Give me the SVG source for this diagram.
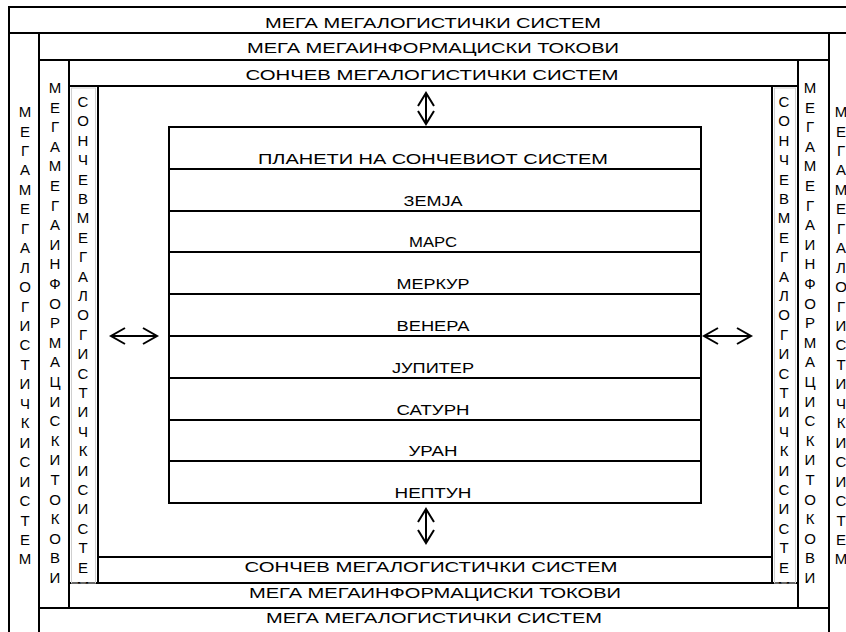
<svg xmlns="http://www.w3.org/2000/svg" width="846" height="632" viewBox="0 0 846 632">
<style>
.ln{stroke:#000;stroke-width:2;fill:none;stroke-linecap:square}
.t{font-family:"Liberation Sans",Arial,sans-serif;font-size:14px;fill:#000}
.v{font-size:15px}
.c{text-anchor:middle}
.ar{stroke:#000;stroke-width:2;fill:none;stroke-linejoin:miter}
.gb{stroke:#cfcfcf;stroke-width:1;fill:none}
</style>
<defs>
<clipPath id="clipL3"><rect x="69" y="86" width="29" height="497.5"/></clipPath>
<clipPath id="clipR3"><rect x="772" y="86" width="26" height="497.5"/></clipPath>
</defs>
<rect width="846" height="632" fill="#fff"/>

<g id="mega-logistics-system">
<path class="ln" d="M9,7H846M9,33H846M9,7V632M39,33V632M829,33V632M39,608H829"/>
<text class="t c" x="433" y="28" textLength="336" lengthAdjust="spacingAndGlyphs">МЕГА МЕГАЛОГИСТИЧКИ СИСТЕМ</text>
<text class="t c" x="434" y="623" textLength="336" lengthAdjust="spacingAndGlyphs">МЕГА МЕГАЛОГИСТИЧКИ СИСТЕМ</text>
<text class="t v c" x="25 25 25 25 25 25 25 25 25 25 25 25 25 25 25 25 25 25 25 25 25 25 25 25" y="117 136.5 155.9 175.4 194.8 214.3 233.7 253.2 272.6 292.1 311.5 331 350.4 369.9 389.3 408.8 428.2 447.7 467.1 486.6 506 525.5 544.9 564.4">МЕГАМЕГАЛОГИСТИЧКИСИСТЕМ</text>
<text class="t v c" x="841 841 841 841 841 841 841 841 841 841 841 841 841 841 841 841 841 841 841 841 841 841 841 841" y="117 136.5 155.9 175.4 194.8 214.3 233.7 253.2 272.6 292.1 311.5 331 350.4 369.9 389.3 408.8 428.2 447.7 467.1 486.6 506 525.5 544.9 564.4">МЕГАМЕГАЛОГИСТИЧКИСИСТЕМ</text>
</g>

<g id="mega-information-flows">
<path class="ln" d="M39,60H829M69,60V608M798,60V608M69,583H798"/>
<text class="t c" x="433" y="53" textLength="372" lengthAdjust="spacingAndGlyphs">МЕГА МЕГАИНФОРМАЦИСКИ ТОКОВИ</text>
<text class="t c" x="435" y="598" textLength="372" lengthAdjust="spacingAndGlyphs">МЕГА МЕГАИНФОРМАЦИСКИ ТОКОВИ</text>
<text class="t v c" x="55 55 55 55 55 55 55 55 55 55 55 55 55 55 55 55 55 55 55 55 55 55 55 55 55 55" y="93 112.6 132.2 151.8 171.4 191 210.6 230.2 249.8 269.4 289 308.6 328.2 347.8 367.4 387 406.6 426.2 445.8 465.4 485 504.6 524.2 543.8 563.4 583">МЕГАМЕГАИНФОРМАЦИСКИТОКОВИ</text>
<text class="t v c" x="810 810 810 810 810 810 810 810 810 810 810 810 810 810 810 810 810 810 810 810 810 810 810 810 810 810" y="93 112.6 132.2 151.8 171.4 191 210.6 230.2 249.8 269.4 289 308.6 328.2 347.8 367.4 387 406.6 426.2 445.8 465.4 485 504.6 524.2 543.8 563.4 583">МЕГАМЕГАИНФОРМАЦИСКИТОКОВИ</text>
</g>

<g id="solar-mega-logistics-system">
<path class="ln" d="M69,86H798M98,86V583M772,86V583M98,557H772"/>
<rect class="gb" x="71.5" y="88" width="24" height="495"/>
<rect class="gb" x="774.5" y="88" width="21" height="495"/>
<text class="t c" x="432" y="80" textLength="373" lengthAdjust="spacingAndGlyphs">СОНЧЕВ  МЕГАЛОГИСТИЧКИ СИСТЕМ</text>
<text class="t c" x="431" y="572" textLength="373" lengthAdjust="spacingAndGlyphs">СОНЧЕВ  МЕГАЛОГИСТИЧКИ СИСТЕМ</text>
<text class="t v c" clip-path="url(#clipL3)" x="83 83 83 83 83 83 83 83 83 83 83 83 83 83 83 83 83 83 83 83 83 83 83 83 83 83" y="107 126.4 145.8 165.2 184.6 204 223.4 242.8 262.2 281.6 301 320.4 339.8 359.2 378.6 398 417.4 436.8 456.2 475.6 495 514.4 533.8 553.2 572.6 592">СОНЧЕВМЕГАЛОГИСТИЧКИСИСТЕМ</text>
<text class="t v c" clip-path="url(#clipR3)" x="784 784 784 784 784 784 784 784 784 784 784 784 784 784 784 784 784 784 784 784 784 784 784 784 784 784" y="107 126.4 145.8 165.2 184.6 204 223.4 242.8 262.2 281.6 301 320.4 339.8 359.2 378.6 398 417.4 436.8 456.2 475.6 495 514.4 533.8 553.2 572.6 592">СОНЧЕВМЕГАЛОГИСТИЧКИСИСТЕМ</text>
</g>

<g id="planets">
<rect class="ln" x="169" y="127" width="532" height="376"/>
<path class="ln" d="M169,169H701M169,211H701M169,252H701M169,294H701M169,336H701M169,378H701M169,420H701M169,461H701"/>
<text class="t c" x="433" y="164" textLength="350" lengthAdjust="spacingAndGlyphs">ПЛАНЕТИ НА СОНЧЕВИОТ СИСТЕМ</text>
<text class="t c" x="433" y="206" textLength="59" lengthAdjust="spacingAndGlyphs">ЗЕМЈА</text>
<text class="t c" x="433" y="247" textLength="48" lengthAdjust="spacingAndGlyphs">МАРС</text>
<text class="t c" x="433" y="289" textLength="73" lengthAdjust="spacingAndGlyphs">МЕРКУР</text>
<text class="t c" x="433" y="331" textLength="73" lengthAdjust="spacingAndGlyphs">ВЕНЕРА</text>
<text class="t c" x="433" y="373" textLength="82" lengthAdjust="spacingAndGlyphs">ЈУПИТЕР</text>
<text class="t c" x="433" y="415" textLength="73" lengthAdjust="spacingAndGlyphs">САТУРН</text>
<text class="t c" x="433" y="456" textLength="49" lengthAdjust="spacingAndGlyphs">УРАН</text>
<text class="t c" x="433" y="498" textLength="77" lengthAdjust="spacingAndGlyphs">НЕПТУН</text>
</g>

<g id="connectors">
<path class="ar" d="M111,336H157M125,328L111,336L125,344M143,328L157,336L143,344"/>
<path class="ar" d="M704,336H751M718,328L704,336L718,344M737,328L751,336L737,344"/>
<path class="ar" d="M426,93V124M418,106L426,93L434,106M418,111L426,124L434,111"/>
<path class="ar" d="M426,509V543M418,522L426,509L434,522M418,530L426,543L434,530"/>
</g>
</svg>
